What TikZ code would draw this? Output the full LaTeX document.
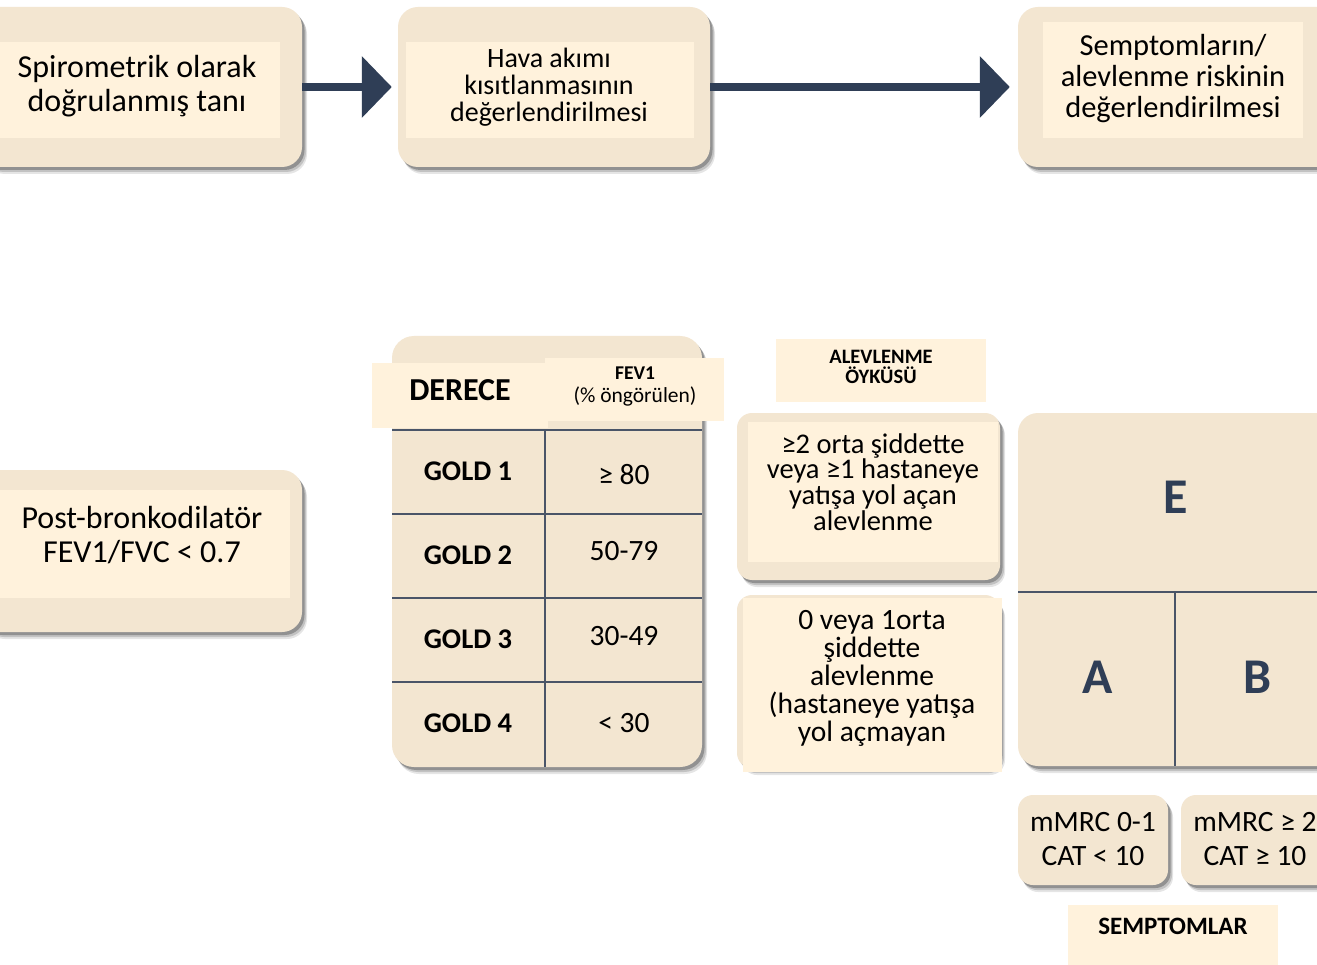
\documentclass[tikz,border=0pt]{standalone}
\usepackage{fontspec}
\setmainfont{Carlito}
\usetikzlibrary{arrows.meta,shadows}
\definecolor{boxouter}{HTML}{F3E6D1}
\definecolor{boxinner}{HTML}{FFF2DC}
\definecolor{navy}{HTML}{2F3E56}
\definecolor{gridline}{HTML}{4A5568}
\begin{document}
\begin{tikzpicture}[x=1pt,y=-1pt,
  outerbox/.style={fill=boxouter, rounded corners=20pt, draw=none, inner sep=0pt,
    drop shadow={shadow xshift=5pt, shadow yshift=-7pt, opacity=0.10, fill=black},
    drop shadow={shadow xshift=4pt, shadow yshift=-5pt, opacity=0.15, fill=black},
    drop shadow={shadow xshift=2.5pt, shadow yshift=-3pt, opacity=0.25, fill=black}},
  smallbox/.style={outerbox, rounded corners=15pt},
  innerrect/.style={fill=boxinner, draw=none, inner sep=0pt},
  txt/.style={align=center, inner sep=0pt, text=black},
  flowarrow/.style={draw=navy, line width=8pt, -{Triangle[length=30pt,width=60pt]}},
  gridln/.style={draw=gridline, line width=2pt},
  letter/.style={inner sep=0pt, font=\bfseries\fontsize{50}{50}\selectfont, text=navy}
]
\useasboundingbox (0,0) rectangle (1317,965);
\clip (0,0) rectangle (1317,965);
\fill[white] (0,0) rectangle (1317,965);

% top row
\node[outerbox, minimum width=322pt, minimum height=160pt] (b1) at (141,87) {};
\node[outerbox, minimum width=312pt, minimum height=160pt] (b2) at (554,87) {};
\node[outerbox, minimum width=322pt, minimum height=160pt] (b3) at (1179,87) {};
\node[innerrect, minimum width=285pt, minimum height=96pt] (b1i) at (137.5,90) {};
\node[innerrect, minimum width=288pt, minimum height=96pt] (b2i) at (550,90) {};
\node[innerrect, minimum width=260pt, minimum height=116pt] (b3i) at (1173,80) {};
\node[txt, font=\fontsize{32}{34}\selectfont] (t1) at (137,86) {Spirometrik olarak\\doğrulanmış tanı};
\node[txt, font=\fontsize{28}{27}\selectfont] (t2) at (549,87) {Hava akımı\\kısıtlanmasının\\değerlendirilmesi};
\node[txt, font=\fontsize{30.5}{31}\selectfont] (t3) at (1173,79) {Semptomların/\\alevlenme riskinin\\değerlendirilmesi};
\draw[flowarrow, shorten >=6pt] (b1.east) -- (b2.west);
\draw[flowarrow, shorten >=8pt] (b2.east) -- (b3.west);

% post-bronchodilator
\node[outerbox, minimum width=322pt, minimum height=162pt] (pb) at (141,551) {};
\node[innerrect, minimum width=290pt, minimum height=108pt] (pbi) at (145,544) {};
\node[txt, font=\fontsize{32}{34}\selectfont] (tpb) at (142,535) {Post-bronkodilatör\\FEV1/FVC < 0.7};

% table
\node[outerbox, rounded corners=22pt, minimum width=310pt, minimum height=431pt] (tab) at (547,551.5) {};
\node[innerrect, minimum width=176pt, minimum height=65pt] (hd) at (460,395.5) {};
\node[innerrect, minimum width=179pt, minimum height=63pt] (hf) at (634.5,389.5) {};
\node[txt, font=\bfseries\fontsize{32}{32}\selectfont] (tder) at (460,390) {DERECE};
\node[txt, font=\fontsize{21.5}{23}\selectfont] (tfev) at (635,387) {\textbf{\fontsize{19.5}{23}\selectfont FEV1}\\(\% öngörülen)};
\foreach \yy in {430,514,598,682} \draw[gridln] (392,\yy) -- (702,\yy);
\draw[gridln] (545,430) -- (545,767);
\node[txt, font=\bfseries\fontsize{28.5}{28.5}\selectfont] (g1) at (468,471) {GOLD 1};
\node[txt, font=\bfseries\fontsize{28.5}{28.5}\selectfont] (g2) at (468,555) {GOLD 2};
\node[txt, font=\bfseries\fontsize{28.5}{28.5}\selectfont] (g3) at (468,639) {GOLD 3};
\node[txt, font=\bfseries\fontsize{28.5}{28.5}\selectfont] (g4) at (468,723) {GOLD 4};
\node[txt, font=\fontsize{29.5}{29.5}\selectfont] (v1) at (624,475) {≥ 80};
\node[txt, font=\fontsize{29.5}{29.5}\selectfont] (v2) at (624,551) {50-79};
\node[txt, font=\fontsize{29.5}{29.5}\selectfont] (v3) at (624,636) {30-49};
\node[txt, font=\fontsize{29.5}{29.5}\selectfont] (v4) at (624,723) {< 30};

% exacerbation history
\node[innerrect, minimum width=210pt, minimum height=63pt] (al) at (881,370.5) {};
\node[txt, font=\bfseries\fontsize{20.5}{20.5}\selectfont] (tal) at (881,367) {ALEVLENME\\ÖYKÜSÜ};
\node[smallbox, minimum width=263pt, minimum height=167pt] (e1) at (868.5,496.5) {};
\node[innerrect, minimum width=250pt, minimum height=140pt] (e1i) at (873,492) {};
\node[txt, font=\fontsize{28.5}{25.7}\selectfont] (te1) at (873,482) {≥2 orta şiddette\\veya ≥1 hastaneye\\yatışa yol açan\\alevlenme};
\node[smallbox, minimum width=263pt, minimum height=173pt] (e2) at (868.5,681.5) {};
\node[innerrect, minimum width=259pt, minimum height=174pt] (e2i) at (872.5,685) {};
\node[txt, font=\fontsize{29.5}{28}\selectfont] (te2) at (872,678) {0 veya 1orta\\şiddette\\alevlenme\\(hastaneye yatışa\\yol açmayan};

% ABE grid
\node[outerbox, minimum width=322pt, minimum height=353pt] (abe) at (1179,589.5) {};
\draw[gridln] (1018,592) -- (1317,592);
\draw[gridln] (1175,592) -- (1175,766);
\node[letter] (le) at (1176,497) {E};
\node[letter] (la) at (1098,677) {A};
\node[letter] (lb) at (1257,677) {B};

% symptoms
\node[smallbox, minimum width=150pt, minimum height=90pt] (s1) at (1093,840) {};
\node[smallbox, minimum width=159pt, minimum height=90pt] (s2) at (1260.5,840) {};
\node[txt, font=\fontsize{29.5}{34}\selectfont] (ts1) at (1093,839) {mMRC 0-1\\CAT < 10};
\node[txt, font=\fontsize{29.5}{34}\selectfont] (ts2) at (1255,839) {mMRC ≥ 2\\CAT ≥ 10};
\node[innerrect, minimum width=210pt, minimum height=65pt] (sm) at (1173,937.5) {};
\node[txt, font=\bfseries\fontsize{25}{25}\selectfont] (tsm) at (1173,926) {SEMPTOMLAR};
\end{tikzpicture}
\end{document}
